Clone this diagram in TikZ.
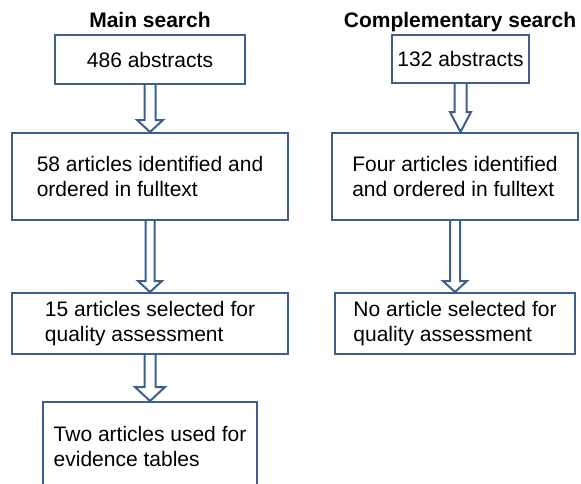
\documentclass[tikz,border=0pt]{standalone}
\usepackage{fontspec}
\setmainfont{Liberation Sans}
\usetikzlibrary{calc}
\definecolor{boxblue}{RGB}{60,95,140}
\tikzset{
  box/.style={draw=boxblue, line width=2pt, fill=white, inner sep=0pt, align=left,
    font=\fontsize{21}{25}\selectfont},
  title/.style={anchor=base, font=\fontsize{21}{25}\selectfont\bfseries},
  barrow/.style={draw=boxblue, line width=2pt, line join=miter},
}
\newcommand\blkarrow[5]{\draw[barrow] let \p1=(#1.south), \p2=(#2.north) in
  (\x1-#3pt,\y1) -- (\x1-#3pt,\y2+#5pt) -- (\x1-#4pt,\y2+#5pt) -- (\x1,\y2)
  -- (\x1+#4pt,\y2+#5pt) -- (\x1+#3pt,\y2+#5pt) -- (\x1+#3pt,\y1);}
\begin{document}
\begin{tikzpicture}[x=1pt,y=-1pt]
\useasboundingbox (0,0) rectangle (581,483);
\begin{scope}
\clip (0,0) rectangle (581,483);
\node[title] (t1) at (150,27) {Main search};
\node[title] (t2) at (460,27) {Complementary search};
\node[box, minimum width=190pt, minimum height=49pt] (a1) at (150,59.5) {486 abstracts};
\node[box, minimum width=276pt, minimum height=87pt] (a2) at (150,176.5) {58 articles identified and\\ordered in fulltext};
\node[box, minimum width=276pt, minimum height=61pt] (a3) at (150,323.5) {15 articles selected for\\quality assessment};
\node[box, minimum width=214pt, minimum height=89pt] (a4) at (150,446.5) {Two articles used for\\evidence tables};
\node[box, minimum width=137pt, minimum height=48pt] (b1) at (460.5,59) {132 abstracts};
\node[box, minimum width=246pt, minimum height=87pt] (b2) at (455,176.5) {Four articles identified\\and ordered in fulltext};
\node[box, minimum width=240pt, minimum height=61pt] (b3) at (455,323.5) {No article selected for\\quality assessment};
\blkarrow{a1}{a2}{5.5}{13}{12}
\blkarrow{a2}{a3}{4.5}{12}{11}
\blkarrow{a3}{a4}{5.5}{15}{14}
\blkarrow{b1}{b2}{6}{10.5}{20}
\blkarrow{b2}{b3}{5}{12}{11}
\end{scope}
\end{tikzpicture}
\end{document}
